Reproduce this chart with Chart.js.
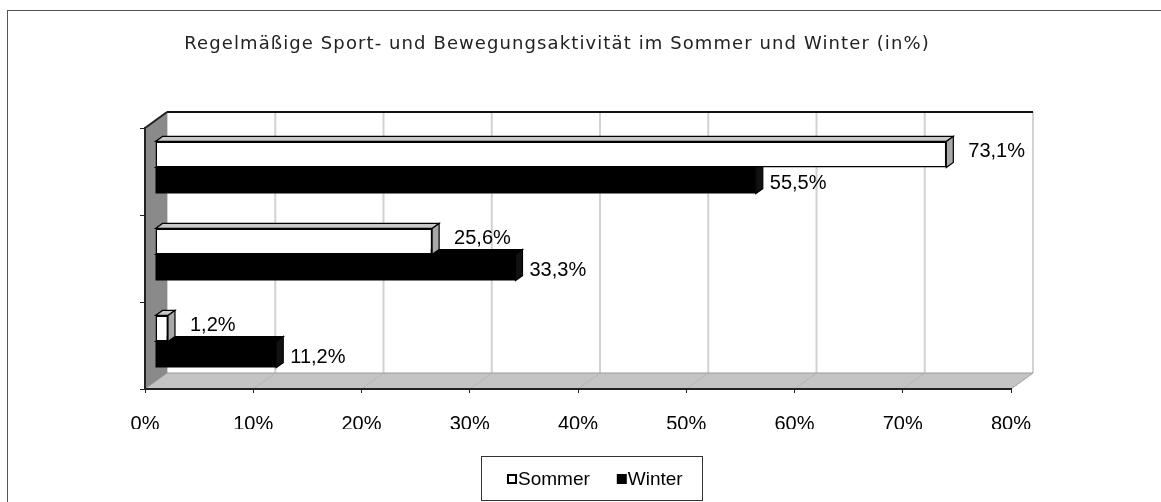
<!DOCTYPE html>
<html>
<head>
<meta charset="utf-8">
<script src="https://cdn.jsdelivr.net/npm/chart.js@4"></script>
<style>
  html, body { margin: 0; padding: 0; background: #fff; }
  #wrap { width: 1161px; height: 502px; }
</style>
</head>
<body>
<div id="wrap"><canvas id="chart" width="1161" height="502"></canvas></div>
<script>
// Daten
const categories = ["", "", ""];
const sommerValues = [73.1, 25.6, 1.2];
const winterValues = [55.5, 33.3, 11.2];
const seriesLabels = ["Sommer", "Winter"];
const xTicks = [0, 10, 20, 30, 40, 50, 60, 70, 80];
const chartTitle = "Regelmäßige Sport- und Bewegungsaktivität im Sommer und Winter (in%)";

// 3D-Versatz (Tiefe der Wände, Lage der Balken)
const DX = 22, DY = -16;
const BX = 10, BY = -4;
const BD_X = 7, BD_Y = -5;
const ARIAL = "'Liberation Sans', Arial, sans-serif";

const fmt = (v) => v.toFixed(1).replace(".", ",") + "%";

// Wände, Boden, Titel, Beschriftungen, Legende
const wallsPlugin = {
  id: "walls",
  beforeDraw(chart) {
    const { ctx, chartArea: a } = chart;
    const xs = chart.scales.x;
    ctx.save();
    // Rahmen außen
    ctx.strokeStyle = "#555";
    ctx.lineWidth = 1;
    ctx.strokeRect(7.5, 10.5, chart.width, chart.height);

    // Titel
    ctx.font = "18px 'DejaVu Sans', sans-serif";
    ctx.letterSpacing = "1.1px";
    ctx.fillStyle = "#222";
    ctx.textAlign = "center";
    ctx.textBaseline = "middle";
    ctx.fillText(chartTitle, 557, 44);
    ctx.letterSpacing = "0px";

    // Rückwand
    ctx.fillStyle = "#fff";
    ctx.fillRect(a.left + DX, a.top + DY, a.right - a.left, a.bottom - a.top);
    ctx.strokeStyle = "#d2d2d2";
    ctx.lineWidth = 2;
    xTicks.forEach((v) => {
      const px = xs.getPixelForValue(v) + DX;
      ctx.beginPath();
      ctx.moveTo(px, a.top + DY);
      ctx.lineTo(px, a.bottom + DY);
      ctx.stroke();
    });
    ctx.strokeStyle = "#111";
    ctx.beginPath();
    ctx.moveTo(a.left + DX, a.top + DY);
    ctx.lineTo(a.right + DX, a.top + DY);
    ctx.stroke();

    // Boden
    ctx.fillStyle = "#c4c4c4";
    ctx.beginPath();
    ctx.moveTo(a.left, a.bottom);
    ctx.lineTo(a.left + DX, a.bottom + DY);
    ctx.lineTo(a.right + DX, a.bottom + DY);
    ctx.lineTo(a.right, a.bottom);
    ctx.closePath();
    ctx.fill();
    ctx.strokeStyle = "#9a9a9a";
    ctx.lineWidth = 1;
    ctx.stroke();
    ctx.strokeStyle = "#b4b4b4";
    xTicks.forEach((v) => {
      const px = xs.getPixelForValue(v);
      ctx.beginPath();
      ctx.moveTo(px, a.bottom);
      ctx.lineTo(px + DX, a.bottom + DY);
      ctx.stroke();
    });

    // linke Wand
    ctx.fillStyle = "#8a8a8a";
    ctx.beginPath();
    ctx.moveTo(a.left, a.top);
    ctx.lineTo(a.left + DX, a.top + DY);
    ctx.lineTo(a.left + DX, a.bottom + DY);
    ctx.lineTo(a.left, a.bottom);
    ctx.closePath();
    ctx.fill();
    ctx.strokeStyle = "#222";
    ctx.lineWidth = 2;
    ctx.beginPath();
    ctx.moveTo(a.left, a.top);
    ctx.lineTo(a.left + DX, a.top + DY);
    ctx.stroke();
    ctx.restore();
  },
  beforeDatasetsDraw(chart) {
    chart.ctx.save();
    chart.ctx.translate(BX, BY);
  },
  afterDatasetDraw(chart, args) {
    // Ober- und Seitenfläche der Balken
    const { ctx } = chart;
    const ds = chart.data.datasets[args.index];
    args.meta.data.forEach((bar) => {
      const p = bar.getProps(["x", "y", "base", "height"], true);
      const yT = p.y - p.height / 2, yB = p.y + p.height / 2;
      ctx.save();
      ctx.lineWidth = 1.2;
      ctx.strokeStyle = "#000";
      ctx.fillStyle = ds.topColor;
      ctx.beginPath();
      ctx.moveTo(p.base, yT);
      ctx.lineTo(p.base + BD_X, yT + BD_Y);
      ctx.lineTo(p.x + BD_X, yT + BD_Y);
      ctx.lineTo(p.x, yT);
      ctx.closePath();
      ctx.fill();
      ctx.stroke();
      ctx.fillStyle = ds.sideColor;
      ctx.beginPath();
      ctx.moveTo(p.x, yT);
      ctx.lineTo(p.x + BD_X, yT + BD_Y);
      ctx.lineTo(p.x + BD_X, yB + BD_Y);
      ctx.lineTo(p.x, yB);
      ctx.closePath();
      ctx.fill();
      ctx.stroke();
      ctx.restore();
    });
  },
  afterDatasetsDraw(chart) {
    const { ctx } = chart;
    ctx.restore();
    // Datenbeschriftungen
    ctx.save();
    ctx.font = "20px " + ARIAL;
    ctx.fillStyle = "#000";
    ctx.textAlign = "left";
    ctx.textBaseline = "middle";
    chart.data.datasets.forEach((ds, i) => {
      chart.getDatasetMeta(i).data.forEach((bar, j) => {
        const x = bar.x + BX + ds.labelDx;
        const y = bar.y + BY + ds.labelDy;
        ctx.fillText(fmt(ds.data[j]), x, y);
      });
    });
    ctx.restore();
  },
  afterDraw(chart) {
    // Legende mit Rahmen
    const { ctx } = chart;
    const boxL = 481, boxT = 456, boxW = 221, boxH = 44;
    ctx.save();
    ctx.strokeStyle = "#333";
    ctx.lineWidth = 1;
    ctx.strokeRect(boxL + 0.5, boxT + 0.5, boxW, boxH);
    ctx.font = "19px " + ARIAL;
    ctx.textBaseline = "middle";
    let x = boxL + 26;
    const cy = boxT + 24;
    chart.data.datasets.forEach((ds) => {
      if (ds.backgroundColor === "#fff") {
        ctx.lineWidth = 2;
        ctx.strokeStyle = "#000";
        ctx.fillStyle = "#fff";
        ctx.fillRect(x + 1, cy - 5, 8, 8);
        ctx.strokeRect(x + 1, cy - 5, 8, 8);
      } else {
        ctx.fillStyle = "#000";
        ctx.fillRect(x, cy - 6, 10, 10);
      }
      ctx.fillStyle = "#000";
      ctx.fillText(ds.label, x + 11, cy);
      x += 11 + ctx.measureText(ds.label).width + 27;
    });
    ctx.restore();
  },
};

const ctx = document.getElementById("chart").getContext("2d");
const myChart = new Chart(ctx, {
  type: "bar",
  data: {
    labels: categories,
    datasets: [
      {
        label: seriesLabels[0],
        data: sommerValues,
        backgroundColor: "#fff",
        borderColor: "#000",
        borderWidth: 1.5,
        borderSkipped: false,
        topColor: "#c8c8c8",
        sideColor: "#a8a8a8",
        labelDx: 22,
        labelDy: -3,
        clip: false,
      },
      {
        label: seriesLabels[1],
        data: winterValues,
        backgroundColor: "#000",
        borderColor: "#000",
        borderWidth: 0,
        topColor: "#000",
        sideColor: "#111",
        labelDx: 14,
        labelDy: 3,
        clip: false,
      },
    ],
  },
  plugins: [wallsPlugin],
  options: {
    indexAxis: "y",
    responsive: false,
    animation: false,
    categoryPercentage: 0.6,
    barPercentage: 1.0,
    layout: { padding: { left: 101, right: 150, top: 128, bottom: 73 } },
    scales: {
      x: {
        min: 0,
        max: 80,
        afterFit: (s) => { s.height = 40; },
        afterBuildTicks: (s) => { s.ticks = xTicks.map((v) => ({ value: v })); },
        grid: { drawOnChartArea: false, tickLength: 4, color: "#222", lineWidth: 1 },
        border: { display: true, color: "#222", width: 2 },
        ticks: {
          padding: 19,
          color: "#000",
          font: { family: ARIAL, size: 20 },
          callback: (v) => v + "%",
          maxRotation: 0,
        },
      },
      y: {
        afterFit: (s) => { s.width = 44; },
        grid: { offset: true, drawOnChartArea: false, tickLength: 5, color: "#222" },
        border: { display: true, color: "#222", width: 2 },
        ticks: { display: false },
      },
    },
    plugins: {
      legend: { display: false },
      tooltip: { enabled: false },
      title: { display: false },
    },
  },
});
</script>
</body>
</html>
